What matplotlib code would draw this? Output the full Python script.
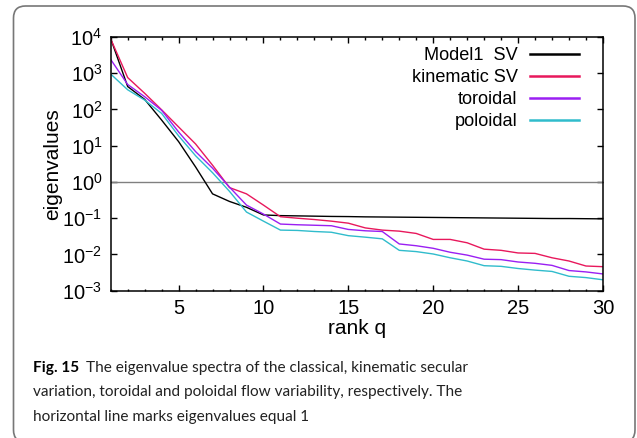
import numpy as np
import matplotlib.pyplot as plt
from matplotlib.ticker import MultipleLocator, LogLocator, NullLocator
from matplotlib.patches import FancyBboxPatch

plt.rcParams['font.family'] = ['Liberation Sans', 'DejaVu Sans']
plt.rcParams['mathtext.default'] = 'regular'

# eigenvalue spectra, rank q = 1..30
rank = np.arange(1, 31)
model1_sv = [9000, 430, 190, 51, 13, 2.6, 0.47, 0.29, 0.2, 0.123,
             0.118, 0.116, 0.114, 0.112, 0.111, 0.109, 0.108, 0.107, 0.106, 0.105,
             0.104, 0.103, 0.102, 0.101, 0.100, 0.099, 0.098, 0.098, 0.097, 0.096]
kinematic_sv = [8800, 760, 280, 98, 33, 11.2, 2.9, 0.7, 0.47, 0.23,
                0.11, 0.1, 0.092, 0.083, 0.073, 0.054, 0.047, 0.044, 0.038, 0.026,
                0.026, 0.021, 0.014, 0.013, 0.011, 0.0107, 0.0081, 0.0066, 0.0048, 0.0046]
toroidal = [2400, 490, 225, 95, 24, 6.9, 2.4, 0.72, 0.23, 0.13,
            0.069, 0.066, 0.064, 0.062, 0.049, 0.045, 0.043, 0.0195, 0.0174, 0.0148,
            0.0115, 0.0096, 0.0074, 0.0072, 0.0062, 0.0057, 0.0050, 0.0036, 0.0033, 0.0029]
poloidal = [950, 350, 182, 78, 18.7, 5.3, 1.8, 0.55, 0.148, 0.083,
            0.047, 0.046, 0.043, 0.041, 0.033, 0.030, 0.027, 0.013, 0.012, 0.0103,
            0.0081, 0.0066, 0.0049, 0.0047, 0.0041, 0.0037, 0.0034, 0.0025, 0.0023, 0.0020]

labels = ['Model1  SV', 'kinematic SV', 'toroidal', 'poloidal']
colors = ['#000000', '#e8185c', '#9a1ff2', '#30bccc']

fig = plt.figure(figsize=(6.37, 4.38), dpi=100)
ax = fig.add_axes([0.1738, 0.3363, 0.7727, 0.5792])

ax.axhline(1, color='#808080', lw=1.0)
for ys, lab, c in zip([model1_sv, kinematic_sv, toroidal, poloidal], labels, colors):
    ax.plot(rank, ys, color=c, lw=1.0, label=lab)

ax.set_yscale('log')
ax.set_xlim(1, 30)
ax.set_ylim(1e-3, 1e4)
ax.xaxis.set_major_locator(MultipleLocator(5))
ax.xaxis.set_minor_locator(MultipleLocator(1))
ax.yaxis.set_major_locator(LogLocator(base=10, numticks=20))
ax.yaxis.set_minor_locator(NullLocator())
ax.tick_params(which='both', direction='in', top=True, right=True, labelsize=14.5)
ax.tick_params(which='major', length=4, width=1)
ax.tick_params(which='minor', length=1.8, width=1)
ax.tick_params(axis='y', pad=6)
ax.tick_params(axis='x', pad=6)
for s in ax.spines.values():
    s.set_linewidth(1.1)

ax.set_xlabel('rank q', fontsize=15, labelpad=1)
ax.set_ylabel('eigenvalues', fontsize=15, labelpad=0)

leg = ax.legend(loc='upper right', bbox_to_anchor=(0.951, 0.96), frameon=False,
                markerfirst=False, fontsize=13.1, handlelength=2.7,
                handletextpad=0.66, labelspacing=0.28, borderpad=0, borderaxespad=0)
for h in leg.get_lines():
    h.set_linewidth(1.8)

# caption box (bottom edge runs off the image)
box = FancyBboxPatch((0.135, -0.04), 6.215, 4.36, boxstyle='round,pad=0,rounding_size=0.12',
                     transform=fig.dpi_scale_trans, fill=False, edgecolor='#777777', lw=1.2)
fig.patches.append(box)

cap_font = ['Liberation Sans Narrow', 'Lato', 'DejaVu Sans']
H = 438.0
W = 637.0
t_bold = fig.text(33 / W, 1 - 371.7 / H, 'Fig. 15', fontweight='bold', family=cap_font,
                  fontsize=12, va='baseline')
t1 = fig.text(86 / W, 1 - 371.7 / H, 'The eigenvalue spectra of the classical, kinematic secular',
              family=cap_font, fontsize=12, va='baseline', color='#222222')
t2 = fig.text(33 / W, 1 - 396.2 / H,
              'variation, toroidal and poloidal flow variability, respectively. The',
              family=cap_font, fontsize=12, va='baseline', color='#222222')
t3 = fig.text(33 / W, 1 - 420.7 / H, 'horizontal line marks eigenvalues equal 1',
              family=cap_font, fontsize=12, va='baseline', color='#222222')

# scale caption size so the second line spans the same width as in the figure
fig.canvas.draw()
r = fig.canvas.get_renderer()
wpx = t2.get_window_extent(r).width
fs = 12 * 429.0 / wpx
for t in [t_bold, t1, t2, t3]:
    t.set_fontsize(fs)

fig.savefig('out.png', dpi=100)
